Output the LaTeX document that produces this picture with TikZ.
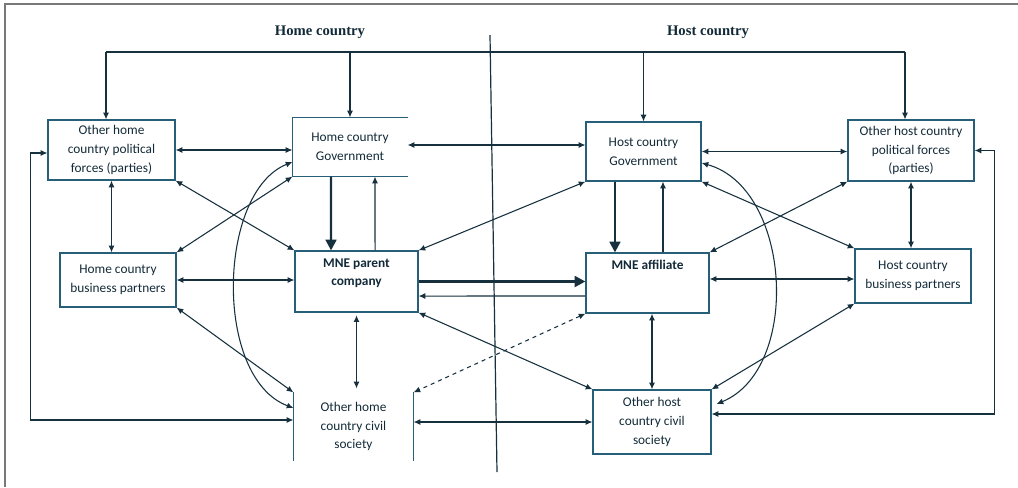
\documentclass[tikz,border=0pt]{standalone}
\usepackage{fontspec}
\setmainfont{Carlito}
\newfontfamily\titlefont{Liberation Serif}
\usetikzlibrary{arrows.meta}

\definecolor{boxcol}{RGB}{40,95,120}
\definecolor{linecol}{RGB}{22,48,62}
\definecolor{txtcol}{RGB}{18,42,56}
\definecolor{framecol}{RGB}{120,120,120}

\tikzset{
	box/.style={draw=boxcol, line width=0.9pt, align=center, text=txtcol, inner sep=0pt,
		font=\fontsize{10}{14}\selectfont},
	openbox/.style={box, draw=none},
	boxline/.style={draw=boxcol, line width=0.9pt},
	title/.style={font=\titlefont\bfseries\fontsize{11}{13}\selectfont, text=txtcol, inner sep=0pt},
	link/.style={draw=linecol, line width=0.8pt},
	both/.style={link, {Latex[length=5pt,width=4.5pt]}-{Latex[length=5pt,width=4.5pt]}},
	boththick/.style={both, line width=1.2pt},
	one/.style={link, -{Latex[length=5pt,width=4.5pt]}},
	heavy/.style={draw=linecol, line width=1.8pt, -{Triangle[length=8pt,width=8pt]}},
}

\begin{document}
\begin{tikzpicture}[x=0.75pt,y=0.75pt,yscale=-1]
	\useasboundingbox (0,0) rectangle (1018,487);
	
	%Frame
	\draw [framecol, line width=0.9pt] (1018,4) -- (5,4) -- (5,487);
	%Divider
	\coordinate (divtop) at (490,35);
	\coordinate (divbot) at (497,472);
	\draw [linecol, line width=0.9pt] (divtop) -- (divbot);
	
	% Text Node
	\node [title] (hometitle) at (320,32) {Home country};
	\node [title] (hosttitle) at (708,32) {Host country};
	
	%Home side
	\node [box, minimum width=95.25pt, minimum height=45pt] (homeparties) at (111.5,150) {Other home\\country political\\forces (parties)};
	\node [openbox, minimum width=85.5pt, minimum height=43.5pt] (homegov) at (350,147) {Home country\\Government};
	\draw [boxline] (homegov.north east) -- (homegov.north west) -- (homegov.south west) -- (homegov.south east);
	\node [box, minimum width=87pt, minimum height=40.5pt] (homepartners) at (118,280) {Home country\\business partners};
	\node [box, minimum width=92.25pt, minimum height=45.75pt] (parent) at (356.5,281.5) {\bfseries MNE parent\\\bfseries company\\~};
	\node [openbox, minimum width=89.25pt, minimum height=50.25pt] (homecivil) at (353.5,426.5) {Other home\\country civil\\society};
	\draw [boxline] (homecivil.north west) -- (homecivil.south west) (homecivil.north east) -- (homecivil.south east);
	
	%Host side
	\node [box, minimum width=86.25pt, minimum height=44.25pt] (hostgov) at (643.5,151.5) {Host country\\Government};
	\node [box, minimum width=94.5pt, minimum height=45.75pt] (hostparties) at (911,150.5) {Other host country\\political forces\\(parties)};
	\node [box, minimum width=92.25pt, minimum height=45pt] (affiliate) at (647.5,283) {\bfseries MNE affiliate\\~\\~};
	\node [box, minimum width=87pt, minimum height=40.5pt] (hostpartners) at (913,276) {Host country\\business partners};
	\node [box, minimum width=88.5pt, minimum height=48pt] (hostcivil) at (652,422) {Other host\\country civil\\society};
	
	%Top bus
	\coordinate (busleft) at (106,52);
	\coordinate (busright) at (905,52);
	\draw [link] (busleft) -- (busright);
	\draw [one] (busleft) -- (busleft |- homeparties.north);
	\draw [one] (homegov.north |- busleft) -- (homegov.north);
	\draw [one] (hostgov.north |- busleft) -- (hostgov.north);
	\draw [one] (busright) -- (busright |- hostparties.north);
	
	%Straight Lines
	\draw [both] (homeparties.east) -- (homeparties.east -| homegov.west);
	\draw [both] ([yshift=-1.5pt]homegov.east) -- ([yshift=-1.5pt]homegov.east -| hostgov.west);
	\draw [boththick] (hostgov.east) -- (hostgov.east -| hostparties.west);
	\draw [both] (homepartners.east) -- (homepartners.east -| parent.west);
	\draw [both] ([yshift=-3pt]affiliate.east) -- ([yshift=-3pt]affiliate.east -| hostpartners.west);
	\draw [both] (hostcivil.west -| homecivil.east) -- (hostcivil.west);
	
	\draw [both] (homeparties.south) -- (homeparties.south |- homepartners.north);
	\draw [boththick] (hostparties.south) -- (hostparties.south |- hostpartners.north);
	\draw [both, shorten <=2pt, shorten >=3pt] (parent.south) -- (parent.south |- homecivil.north);
	\draw [boththick] (hostcivil.north |- affiliate.south) -- (hostcivil.north);
	
	%Government and MNE
	\draw [heavy] ([xshift=-14.25pt]homegov.south) -- ([xshift=-19.1pt]parent.north);
	\draw [one] ([xshift=13.9pt]parent.north) -- ([xshift=18.75pt]homegov.south);
	\draw [heavy] ([xshift=-21.4pt]hostgov.south) -- ([xshift=-24.4pt]affiliate.north);
	\draw [one] ([xshift=11.6pt]affiliate.north) -- ([xshift=14.6pt]hostgov.south);
	\draw [heavy, line width=2pt] (parent.east) -- (parent.east -| affiliate.west);
	\draw [one] ([yshift=9.75pt]affiliate.west) -- ([yshift=10.9pt]parent.east);
	
	%Diagonals
	\draw [both] (homeparties.south east) -- (parent.north west);
	\draw [both] (homegov.south west) -- (homepartners.north east);
	\draw [both] (homepartners.south east) -- (homecivil.north west);
	\draw [both] (hostgov.south west) -- (parent.north east);
	\draw [both] (parent.south east) -- (hostcivil.north west);
	\draw [both] (hostgov.south east) -- (hostpartners.north west);
	\draw [both] (hostparties.south west) -- (affiliate.north east);
	\draw [both] (hostpartners.south west) -- (hostcivil.north east);
	\draw [both, dashed] (affiliate.south west) -- (homecivil.north east);
	
	%Curves
	\draw [both] ([yshift=11.25pt]homegov.west) .. controls +(-75,30) and +(-80,-30) .. ([yshift=-13.9pt]homecivil.west);
	\draw [both] ([yshift=8.6pt]hostgov.east) .. controls +(90,25) and +(85,-35) .. ([xshift=3.75pt,yshift=-13.5pt]hostcivil.east);
	
	%Outer loops
	\draw [both] ([yshift=2.25pt]homeparties.west) -- ++(-17,0) |- ([yshift=-4.9pt]homecivil.west);
	\draw [both] (hostparties.east) -- ++(20,0) |- ([yshift=-6pt]hostcivil.east);
	
\end{tikzpicture}
\end{document}
